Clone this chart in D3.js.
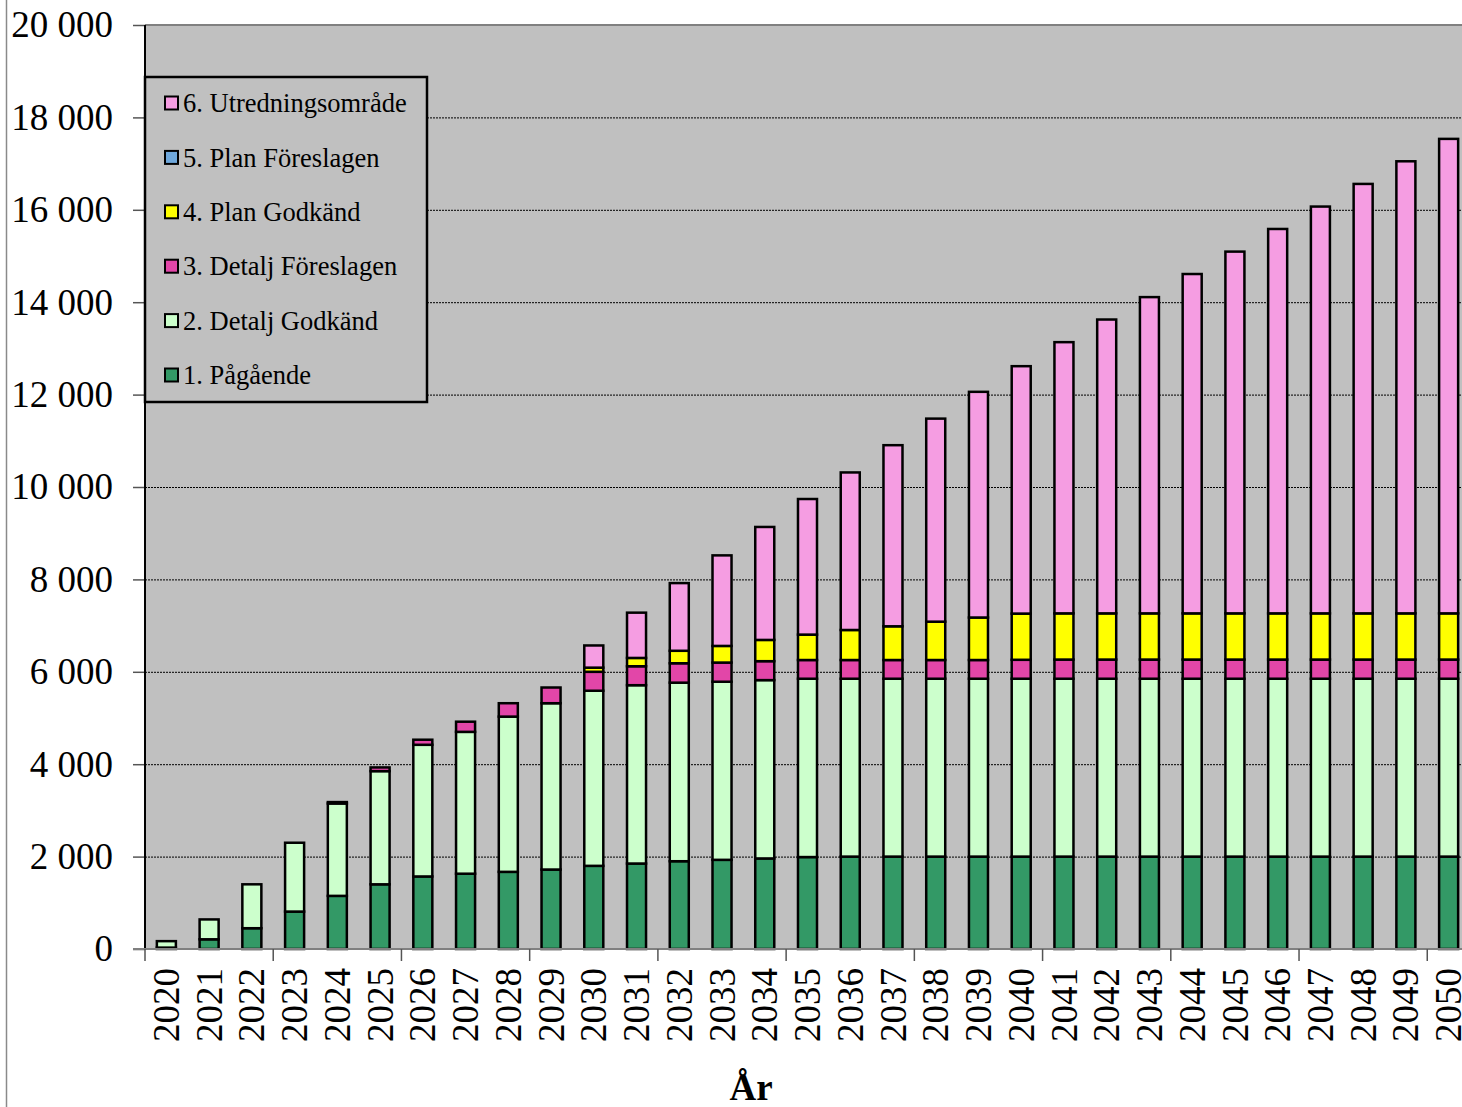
<!DOCTYPE html>
<html>
<head>
<meta charset="utf-8">
<script src="https://cdn.jsdelivr.net/npm/d3@7"></script>
<style>
  html, body { margin: 0; padding: 0; background: #ffffff; }
  svg { display: block; }
</style>
</head>
<body>
<script>
// Data
const years = d3.range(2020, 2051).map(String);
const pagaende = [30, 210, 450, 810, 1150, 1400, 1570, 1630, 1670, 1720, 1800, 1850, 1900, 1930, 1960, 1990,
  2000, 2000, 2000, 2000, 2000, 2000, 2000, 2000, 2000, 2000, 2000, 2000, 2000, 2000, 2000];
const detaljGodkand = [140, 430, 950, 1490, 2000, 2450, 2850, 3070, 3360, 3600, 3790, 3860, 3865, 3855, 3860, 3860,
  3850, 3850, 3850, 3850, 3850, 3850, 3850, 3850, 3850, 3850, 3850, 3850, 3850, 3850, 3850];
const detaljForeslagen = [0, 0, 0, 0, 30, 80, 110, 220, 290, 340, 410, 410, 420, 415, 410, 405,
  405, 405, 405, 405, 410, 415, 415, 415, 415, 415, 415, 415, 415, 415, 415];
const planGodkand = [0, 0, 0, 0, 0, 0, 0, 0, 0, 0, 90, 180, 270, 360, 460, 550,
  650, 730, 830, 920, 1000, 1000, 1000, 1000, 1000, 1000, 1000, 1000, 1000, 1000, 1000];
const planForeslagen = years.map(() => 0);
const utredningsomrade = [0, 0, 0, 0, 0, 0, 0, 0, 0, 0, 480, 980, 1465, 1960, 2445, 2935,
  3410, 3920, 4395, 4885, 5355, 5870, 6360, 6845, 7345, 7830, 8320, 8805, 9295, 9785, 10270];

const seriesNames = ["1. Pågående", "2. Detalj Godkänd", "3. Detalj Föreslagen", "4. Plan Godkänd", "5. Plan Föreslagen", "6. Utredningsområde"];
const seriesValues = [pagaende, detaljGodkand, detaljForeslagen, planGodkand, planForeslagen, utredningsomrade];
const seriesColors = ["#339966", "#CCFFCC", "#E246A8", "#FFFF00", "#6FA8DC", "#F59DE2"];
const yTicks = d3.range(0, 20001, 2000);

// Layout
const width = 1462;
const height = 1107;
const plotLeft = 145, plotRight = 1470, plotTop = 25, plotBottom = 949;
const font = "'Liberation Serif', 'Times New Roman', serif";

// Table for d3.stack
const table = years.map((yr, i) => {
  const row = { year: yr };
  seriesNames.forEach((name, k) => row[name] = seriesValues[k][i]);
  return row;
});
const stacked = d3.stack().keys(seriesNames)(table);

const x = d3.scaleBand()
  .domain(years)
  .range([plotLeft, plotRight])
  .paddingInner(0.555)
  .paddingOuter(0.2775);
const y = d3.scaleLinear().domain([0, 20000]).range([plotBottom, plotTop]);
const color = d3.scaleOrdinal().domain(seriesNames).range(seriesColors);

const fmt = d3.formatLocale({ decimal: ",", thousands: " ", grouping: [3], currency: ["", ""] }).format(",d");

const svg = d3.select("body").append("svg")
  .attr("width", width)
  .attr("height", height)
  .attr("viewBox", [0, 0, width, height]);

// outer frame line on the left
svg.append("line")
  .attr("x1", 6.5).attr("x2", 6.5).attr("y1", 0).attr("y2", height)
  .attr("stroke", "#8a8a8a").attr("stroke-width", 1.5);

// plot background
svg.append("rect")
  .attr("x", plotLeft).attr("y", plotTop)
  .attr("width", plotRight - plotLeft).attr("height", plotBottom - plotTop)
  .attr("fill", "#C0C0C0");

// gridlines
svg.append("g")
  .selectAll("line")
  .data(yTicks.filter(d => d > 0 && d < 20000))
  .join("line")
  .attr("x1", plotLeft).attr("x2", plotRight)
  .attr("y1", d => y(d) + 0.5).attr("y2", d => y(d) + 0.5)
  .attr("stroke", "#000").attr("stroke-width", 1)
  .attr("stroke-dasharray", "2,1");

// top border of the plot
svg.append("line")
  .attr("x1", plotLeft).attr("x2", plotRight)
  .attr("y1", plotTop).attr("y2", plotTop)
  .attr("stroke", "#808080").attr("stroke-width", 2);

// bars
svg.append("g")
  .selectAll("g")
  .data(stacked)
  .join("g")
  .attr("fill", d => color(d.key))
  .selectAll("rect")
  .data(d => d.filter(s => s[1] - s[0] > 0))
  .join("rect")
  .attr("x", d => x(d.data.year))
  .attr("width", x.bandwidth())
  .attr("y", d => y(d[1]))
  .attr("height", d => y(d[0]) - y(d[1]))
  .attr("stroke", "#000")
  .attr("stroke-width", 2.5);

// y axis
const yAxis = svg.append("g")
  .attr("transform", `translate(${plotLeft},0)`)
  .call(d3.axisLeft(y).tickValues(yTicks).tickFormat(fmt).tickSize(12).tickSizeOuter(0).tickPadding(20));
yAxis.select(".domain").remove();
yAxis.selectAll(".tick line").attr("stroke", "#555").attr("stroke-width", 1.5);
yAxis.selectAll("text")
  .attr("font-family", font).attr("font-size", 37).attr("fill", "#000");
svg.append("line")
  .attr("x1", plotLeft).attr("x2", plotLeft)
  .attr("y1", plotTop).attr("y2", plotBottom)
  .attr("stroke", "#000").attr("stroke-width", 2);

// x axis: labels per year, tick marks every third category boundary
const xAxis = svg.append("g")
  .attr("transform", `translate(0,${plotBottom})`)
  .call(d3.axisBottom(x).tickSize(0).tickPadding(0));
xAxis.select(".domain").remove();
xAxis.selectAll("text")
  .attr("font-family", font).attr("font-size", 37).attr("fill", "#000")
  .attr("text-anchor", "end")
  .attr("transform", "rotate(-90)")
  .attr("x", -19).attr("y", 0).attr("dy", "0.34em");

svg.append("line")
  .attr("x1", 133).attr("x2", plotRight)
  .attr("y1", plotBottom).attr("y2", plotBottom)
  .attr("stroke", "#808080").attr("stroke-width", 2);

svg.append("g")
  .selectAll("line")
  .data(years.filter((d, i) => i % 3 === 0))
  .join("line")
  .attr("x1", d => x(d) - x.step() * x.paddingInner() / 2)
  .attr("x2", d => x(d) - x.step() * x.paddingInner() / 2)
  .attr("y1", plotBottom).attr("y2", plotBottom + 12)
  .attr("stroke", "#555").attr("stroke-width", 1.5);

svg.append("text")
  .attr("x", 751).attr("y", 1100)
  .attr("text-anchor", "middle")
  .attr("font-family", font).attr("font-size", 37).attr("font-weight", "bold")
  .text("År");

// legend
const legend = svg.append("g").attr("transform", "translate(145,77)");
legend.append("rect")
  .attr("width", 282).attr("height", 325)
  .attr("fill", "#C0C0C0").attr("stroke", "#000").attr("stroke-width", 2.5);
const legendItems = legend.selectAll("g.item")
  .data(seriesNames.slice().reverse())
  .join("g")
  .attr("class", "item")
  .attr("transform", (d, i) => `translate(0,${26 + i * 54.4})`);
legendItems.append("rect")
  .attr("x", 20).attr("y", -6.5)
  .attr("width", 13).attr("height", 13)
  .attr("fill", d => color(d)).attr("stroke", "#000").attr("stroke-width", 2);
legendItems.append("text")
  .attr("x", 38).attr("y", 0).attr("dy", "0.35em")
  .attr("font-family", font).attr("font-size", 26.5).attr("fill", "#000")
  .text(d => d);
</script>
</body>
</html>
